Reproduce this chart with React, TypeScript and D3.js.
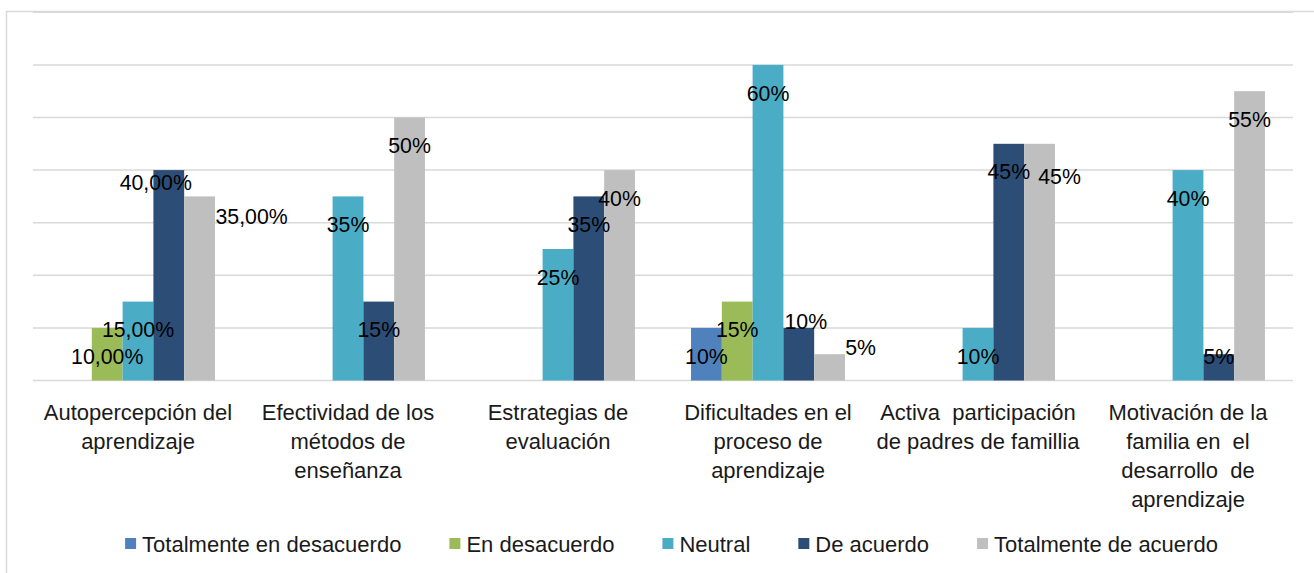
import React, { useEffect, useRef } from 'react';
import * as d3 from 'd3';

const categoryLines: string[][] = [
  ['Autopercepción del', 'aprendizaje'],
  ['Efectividad de los', 'métodos de', 'enseñanza'],
  ['Estrategias de', 'evaluación'],
  ['Dificultades en el', 'proceso de', 'aprendizaje'],
  ['Activa  participación', 'de padres de famillia'],
  ['Motivación de la', 'familia en  el', 'desarrollo  de', 'aprendizaje'],
];

const seriesNames = ['Totalmente en desacuerdo', 'En desacuerdo', 'Neutral', 'De acuerdo', 'Totalmente de acuerdo'];
const seriesColors = ['#4F81BD', '#9BBB59', '#4BACC6', '#2C4D75', '#BFBFBF'];

const totalmenteEnDesacuerdo = [0, 0, 0, 0.1, 0, 0];
const enDesacuerdo = [0.1, 0, 0, 0.15, 0, 0];
const neutral = [0.15, 0.35, 0.25, 0.6, 0.1, 0.4];
const deAcuerdo = [0.4, 0.15, 0.35, 0.1, 0.45, 0.05];
const totalmenteDeAcuerdo = [0.35, 0.5, 0.4, 0.05, 0.45, 0.55];

const seriesValues = [totalmenteEnDesacuerdo, enDesacuerdo, neutral, deAcuerdo, totalmenteDeAcuerdo];

// first category shows labels with two decimals
const labelDecimals = [2, 0, 0, 0, 0, 0];

// hand-moved data labels, as in the original (category-series -> [dx, dy])
const labelNudge: Record<string, [number, number]> = {
  '0-3': [-13, -16],
  '0-4': [52, -8],
  '3-3': [7, -35],
  '3-4': [31, -35],
  '4-4': [20, 5],
  '5-3': [0, -26],
};

const FONT = '"Liberation Sans", Arial, sans-serif';

const App: React.FC = () => {
  const svgRef = useRef<SVGSVGElement>(null);

  useEffect(() => {
    document.body.style.margin = '0';
    const svgEl = svgRef.current;
    if (!svgEl) return;
    const svg = d3.select(svgEl);
    svg.selectAll('*').remove();

    const width = 1314;
    const left = 33;
    const right = 1293;
    const baseY = 380.5;
    const topY = 12.3;

    const cats = categoryLines.map((_, i) => String(i));
    const x0 = d3.scaleBand<string>().domain(cats).range([left, right]).paddingInner(0.267).paddingOuter(0.1335);
    const x1 = d3.scaleBand<string>().domain(seriesNames).range([0, x0.bandwidth()]);
    const y = d3.scaleLinear().domain([0, 0.7]).range([baseY, topY]);

    // chart frame
    svg.append('path')
      .attr('d', `M6.5,${573} V11.5 H${width}`)
      .attr('fill', 'none')
      .attr('stroke', '#D9D9D9')
      .attr('stroke-width', 1.5);

    // gridlines
    svg.append('g')
      .selectAll('line')
      .data(d3.range(0, 8).map((d) => d / 10))
      .join('line')
      .attr('x1', left)
      .attr('x2', right)
      .attr('y1', (d) => y(d))
      .attr('y2', (d) => y(d))
      .attr('stroke', '#D9D9D9')
      .attr('stroke-width', 1.5);

    // bars
    const bars = svg.append('g');
    seriesValues.forEach((vals, si) => {
      bars.selectAll(null)
        .data(vals.map((v, ci) => ({ v, ci })).filter((d) => d.v > 0))
        .join('rect')
        .attr('x', (d) => (x0(String(d.ci)) ?? 0) + (x1(seriesNames[si]) ?? 0))
        .attr('y', (d) => y(d.v))
        .attr('width', x1.bandwidth())
        .attr('height', (d) => baseY - y(d.v))
        .attr('fill', seriesColors[si]);
    });

    // data labels
    const labels = svg.append('g')
      .attr('font-family', FONT)
      .attr('font-size', 21.3)
      .attr('fill', '#000')
      .attr('text-anchor', 'middle');
    seriesValues.forEach((vals, si) => {
      vals.forEach((v, ci) => {
        if (v <= 0) return;
        const nudge = labelNudge[`${ci}-${si}`] ?? [0, 0];
        const cx = (x0(String(ci)) ?? 0) + (x1(seriesNames[si]) ?? 0) + x1.bandwidth() / 2;
        const txt = (v * 100).toFixed(labelDecimals[ci]).replace('.', ',') + '%';
        labels.append('text')
          .attr('x', cx + nudge[0])
          .attr('y', y(v) + 28 + nudge[1])
          .attr('dy', '0.36em')
          .text(txt);
      });
    });

    // category labels
    const catG = svg.append('g')
      .attr('font-family', FONT)
      .attr('font-size', 22)
      .attr('fill', '#1a1a1a')
      .attr('text-anchor', 'middle')
      .style('white-space', 'pre');
    categoryLines.forEach((lines, ci) => {
      const cx = (x0(String(ci)) ?? 0) + x0.bandwidth() / 2;
      lines.forEach((line, li) => {
        catG.append('text')
          .attr('x', cx)
          .attr('y', 412 + li * 29)
          .attr('dy', '0.36em')
          .attr('xml:space', 'preserve')
          .text(line);
      });
    });

    // legend
    const legend = svg.append('g')
      .attr('font-family', FONT)
      .attr('font-size', 22)
      .attr('fill', '#1a1a1a');
    const items = seriesNames.map((name, i) => {
      const g = legend.append('g');
      g.append('rect').attr('x', 0).attr('y', -6).attr('width', 11).attr('height', 11).attr('fill', seriesColors[i]);
      const t = g.append('text').attr('x', 17).attr('y', 0).attr('dy', '0.36em').text(name);
      const w = 17 + (t.node() as SVGTextElement).getComputedTextLength();
      return { g, w };
    });
    const gap = 48;
    const total = d3.sum(items, (d) => d.w) + gap * (items.length - 1);
    let lx = 671.5 - total / 2;
    items.forEach((it) => {
      it.g.attr('transform', `translate(${lx},544)`);
      lx += it.w + gap;
    });
  }, []);

  return <svg ref={svgRef} width={1314} height={573} style={{ display: 'block', background: '#fff' }} />;
};

export default App;
